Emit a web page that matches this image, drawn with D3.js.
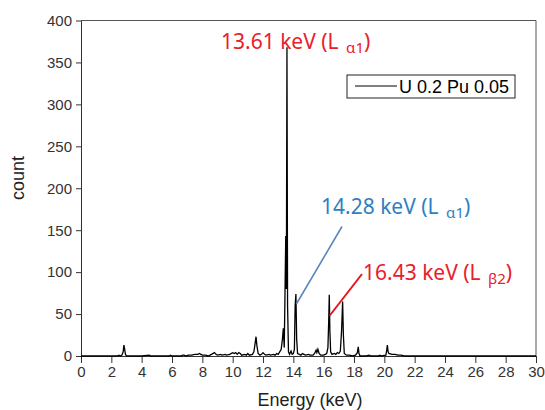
<!DOCTYPE html>
<html><head><meta charset="utf-8">
<script src="https://cdn.jsdelivr.net/npm/d3@7"></script>
<style>body{margin:0;background:#fff}svg{display:block}</style>
</head><body>
<svg id="c" width="545" height="410"></svg>
<script>
const energy = [0,2.4,2.5,2.6,2.7,2.78,2.83,2.88,2.93,3.0,4.0,4.5,4.6,5.8,5.9,6.0,6.6,6.7,6.8,6.9,7.1,7.3,7.5,7.7,7.8,7.9,8.0,8.2,8.4,8.6,8.8,8.9,9.0,9.2,9.3,9.5,9.6,9.8,10.0,10.1,10.2,10.3,10.4,10.5,10.6,10.8,10.9,11.0,11.1,11.3,11.4,11.48,11.54,11.6,11.68,11.8,11.9,12.0,12.1,12.2,12.4,12.5,12.7,12.8,12.9,13.0,13.1,13.2,13.28,13.34,13.4,13.44,13.5,13.54,13.58,13.62,13.68,13.75,13.85,13.92,14.0,14.07,14.12,14.17,14.22,14.28,14.4,14.5,14.6,14.7,14.8,15.0,15.1,15.3,15.4,15.5,15.55,15.62,15.7,15.8,16.0,16.1,16.2,16.28,16.33,16.37,16.41,16.46,16.55,16.7,16.8,16.9,17.0,17.1,17.18,17.25,17.3,17.36,17.5,17.7,17.9,18.1,18.22,18.28,18.33,18.4,18.8,19.0,19.1,19.6,19.7,19.8,20.1,20.15,20.2,20.25,20.3,20.5,20.7,20.9,21.1,21.3,22,30];
const count = [0,0,1,0,1,5,13,8,2,0,0,1,0,0,1,0,0,1,1,0,1,1,2,2,3,2,1,1,0,2,4,2,1,2,1,2,1,2,4,3,4,2,4,3,1,2,1,3,1,2,5,15,23,12,3,1,2,4,2,1,2,1,2,1,3,2,5,8,20,33,10,60,143,80,368,60,5,2,6,2,3,8,60,74,20,3,2,1,3,2,1,2,1,1,3,7,4,8,3,1,1,2,3,10,40,73,30,5,2,3,2,4,3,6,30,65,25,3,1,1,0,1,4,11,3,0,0,1,0,0,1,0,1,6,13,5,3,2,2,1,1,0,0,0];
const xTicks = [0,2,4,6,8,10,12,14,16,18,20,22,24,26,28,30];
const yTicks = [0,50,100,150,200,250,300,350,400];
const seriesName = "U 0.2 Pu 0.05";

const svg = d3.select("#c");
const L=81, R=536, T=20.5, B=356;
const x = d3.scaleLinear().domain([0,30]).range([L,R]);
const y = d3.scaleLinear().domain([0,400]).range([B,T]);
const axCol="#333";

svg.append("line").attr("x1",L).attr("x2",R).attr("y1",T).attr("y2",T).attr("stroke","#555").attr("stroke-width",1);
svg.append("line").attr("x1",R).attr("x2",R).attr("y1",T).attr("y2",B).attr("stroke","#555").attr("stroke-width",1);

const gx = svg.append("g").attr("transform",`translate(0,${B})`);
gx.call(d3.axisBottom(x).tickValues(d3.range(1,30,2)).tickSize(4).tickFormat(""));
gx.call(d3.axisBottom(x).tickValues(xTicks).tickSize(7).tickSizeOuter(0).tickPadding(3));
const gy = svg.append("g").attr("transform",`translate(${L},0)`);
gy.call(d3.axisLeft(y).tickValues(d3.range(25,400,50)).tickSize(4).tickFormat(""));
gy.call(d3.axisLeft(y).tickValues(yTicks).tickSize(5).tickSizeOuter(0).tickPadding(4));
svg.selectAll(".domain").attr("stroke",axCol);
svg.selectAll(".tick line").attr("stroke",axCol);
svg.selectAll(".tick text").attr("fill","#333").style("font-family","'Liberation Sans',Arial,sans-serif").style("font-size","15px");

const pts = energy.map((e,i)=>[e,count[i]]);
svg.append("path").datum(pts)
  .attr("d", d3.line().x(d=>x(d[0])).y(d=>y(d[1])))
  .attr("fill","none").attr("stroke","#000").attr("stroke-width",1.3);

svg.append("text").attr("x",310).attr("y",406).attr("text-anchor","middle")
  .style("font-family","'Liberation Sans',Arial,sans-serif").style("font-size","18px").attr("fill","#222").text("Energy (keV)");
svg.append("text").attr("transform","translate(24,178) rotate(-90)").attr("text-anchor","middle")
  .style("font-family","'Liberation Sans',Arial,sans-serif").style("font-size","18px").attr("fill","#222").text("count");

svg.append("rect").attr("x",347).attr("y",75).attr("width",168).attr("height",23).attr("fill","#fff").attr("stroke","#222").attr("stroke-width",1);
svg.append("line").attr("x1",355).attr("x2",397).attr("y1",86).attr("y2",86).attr("stroke","#000").attr("stroke-width",1);
svg.append("text").attr("x",399).attr("y",92.5).style("font-family","'Liberation Sans',Arial,sans-serif").style("font-size","18px").attr("fill","#000").text(seriesName);

const red="#e8202a", blue="#2f7fc1";
function label(xp, yp, main, sub, col){
  const t = svg.append("text").attr("x",xp).attr("y",yp).attr("fill",col)
    .style("font-family","'Noto Sans','Open Sans',sans-serif").style("font-size","21px");
  t.append("tspan").text(main);
  t.append("tspan").attr("dy",4).attr("dx",2).style("font-size","15px").text(sub);
  t.append("tspan").attr("dy",-4).text(")");
}
label(221,48.5,"13.61 keV (L ","α1",red);
label(321,213.5,"14.28 keV (L ","α1",blue);
label(363,279.5,"16.43 keV (L ","β2",red);
svg.append("line").attr("x1",x(14.2)).attr("y1",y(62)).attr("x2",342).attr("y2",226.5).attr("stroke","#5b86bd").attr("stroke-width",1.6);
svg.append("line").attr("x1",x(16.39)).attr("y1",y(48)).attr("x2",362).attr("y2",274).attr("stroke","#e8141e").attr("stroke-width",2);
</script>
</body></html>
